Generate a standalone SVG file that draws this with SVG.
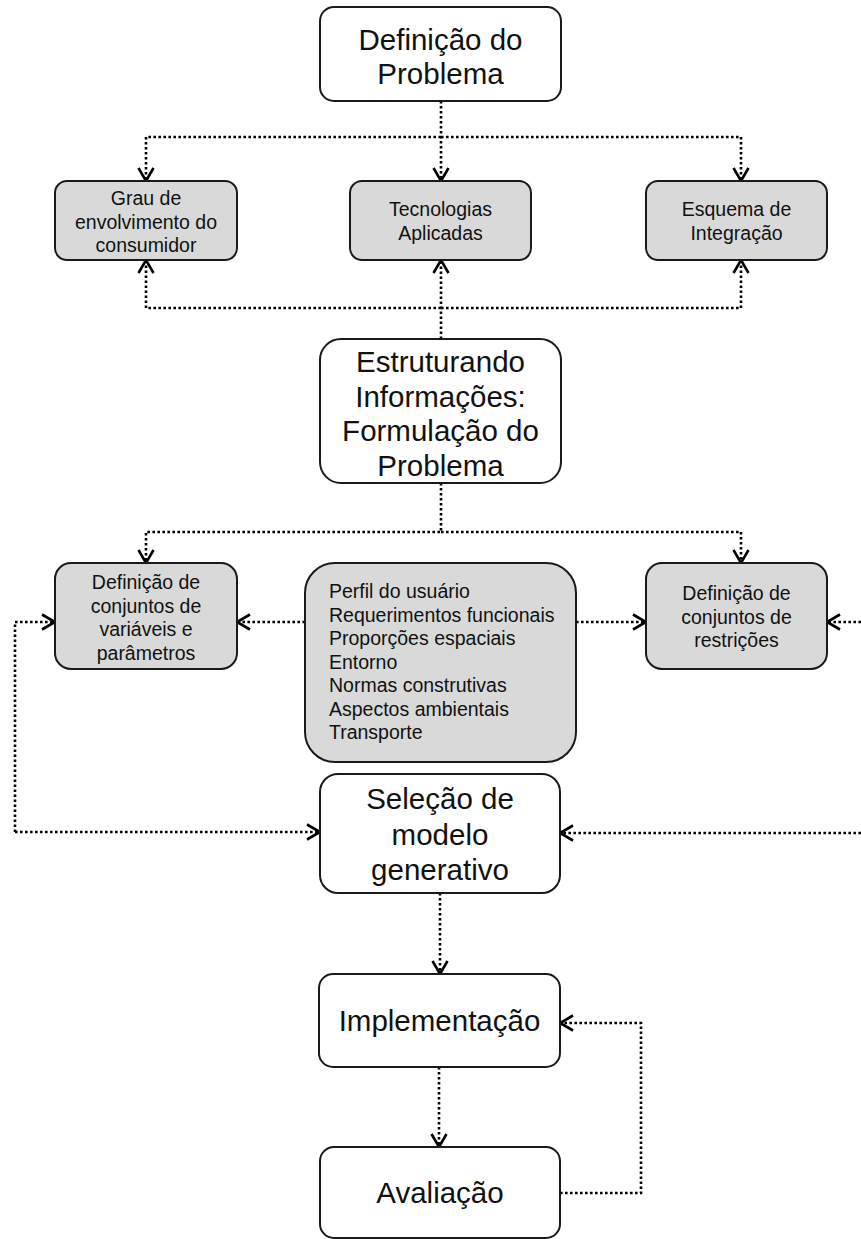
<svg xmlns="http://www.w3.org/2000/svg" width="861" height="1239" viewBox="0 0 861 1239">
<style>
.box{fill:#ffffff;stroke:#1a1a1a;stroke-width:2}
.gbox{fill:#d9d9d9;stroke:#1a1a1a;stroke-width:2}
.big{font-family:"Liberation Sans",Arial,sans-serif;font-size:29.5px;fill:#111;text-anchor:middle}
.sm{font-family:"Liberation Sans",Arial,sans-serif;font-size:19.5px;fill:#111;text-anchor:middle}
.lst{font-family:"Liberation Sans",Arial,sans-serif;font-size:19.5px;fill:#111}
.con{fill:none;stroke:#000;stroke-width:2.6;stroke-dasharray:2.6 2.4}
</style>
<defs>
<marker id="arr" markerUnits="userSpaceOnUse" markerWidth="20" markerHeight="20" refX="15" refY="10" orient="auto" overflow="visible">
<path d="M2,2.5 L15,10 L2,17.5" fill="none" stroke="#000" stroke-width="2.6" stroke-dasharray="none"/>
</marker>
</defs>
<g id="connectors">
<path class="con" d="M441 101 V181" marker-end="url(#arr)"/>
<path class="con" d="M441 137 H146 V181" marker-end="url(#arr)"/>
<path class="con" d="M441 137 H741 V181" marker-end="url(#arr)"/>
<path class="con" d="M441 339 V260" marker-end="url(#arr)"/>
<path class="con" d="M441 308 H146 V260" marker-end="url(#arr)"/>
<path class="con" d="M441 308 H741 V260" marker-end="url(#arr)"/>
<path class="con" d="M441 483 V532 H146 V563" marker-end="url(#arr)"/>
<path class="con" d="M441 532 H741 V563" marker-end="url(#arr)"/>
<path class="con" d="M305 622 H237" marker-end="url(#arr)"/>
<path class="con" d="M576 622 H646" marker-end="url(#arr)"/>
<path class="con" d="M861 622 H827" marker-end="url(#arr)"/>
<path class="con" d="M15 832 V622 H55" marker-end="url(#arr)"/>
<path class="con" d="M15 832 H320" marker-end="url(#arr)"/>
<path class="con" d="M861 833 H560" marker-end="url(#arr)"/>
<path class="con" d="M440 893 V974" marker-end="url(#arr)"/>
<path class="con" d="M439 1067 V1147" marker-end="url(#arr)"/>
<path class="con" d="M560 1193 H641 V1023 H560" marker-end="url(#arr)"/>
</g>
<g id="definicao-problema">
<rect class="box" x="320" y="7" width="241" height="94" rx="14"/>
<text class="big" x="440.5" y="50">Definição do</text>
<text class="big" x="440.5" y="84">Problema</text>
</g>
<g id="grau-envolvimento">
<rect class="gbox" x="55" y="181" width="182" height="79" rx="12"/>
<text class="sm" x="146" y="205">Grau de</text>
<text class="sm" x="146" y="228.5">envolvimento do</text>
<text class="sm" x="146" y="252">consumidor</text>
</g>
<g id="tecnologias">
<rect class="gbox" x="350" y="181" width="181" height="79" rx="12"/>
<text class="sm" x="440.5" y="216">Tecnologias</text>
<text class="sm" x="440.5" y="239.5">Aplicadas</text>
</g>
<g id="esquema-integracao">
<rect class="gbox" x="646" y="181" width="181" height="79" rx="12"/>
<text class="sm" x="736.5" y="216">Esquema de</text>
<text class="sm" x="736.5" y="239.5">Integração</text>
</g>
<g id="estruturando">
<rect class="box" x="320" y="339" width="241" height="144" rx="21"/>
<text class="big" x="440.5" y="372">Estruturando</text>
<text class="big" x="440.5" y="406.5">Informações:</text>
<text class="big" x="440.5" y="441">Formulação do</text>
<text class="big" x="440.5" y="475.5">Problema</text>
</g>
<g id="variaveis-parametros">
<rect class="gbox" x="55" y="563" width="182" height="106" rx="16"/>
<text class="sm" x="146" y="589">Definição de</text>
<text class="sm" x="146" y="612.5">conjuntos de</text>
<text class="sm" x="146" y="636">variáveis e</text>
<text class="sm" x="146" y="659.5">parâmetros</text>
</g>
<g id="lista-informacoes">
<rect class="gbox" x="305" y="563" width="271" height="199" rx="30"/>
<text class="lst" x="329" y="598">Perfil do usuário</text>
<text class="lst" x="329" y="621.5">Requerimentos funcionais</text>
<text class="lst" x="329" y="645">Proporções espaciais</text>
<text class="lst" x="329" y="668.5">Entorno</text>
<text class="lst" x="329" y="692">Normas construtivas</text>
<text class="lst" x="329" y="715.5">Aspectos ambientais</text>
<text class="lst" x="329" y="739">Transporte</text>
</g>
<g id="restricoes">
<rect class="gbox" x="646" y="563" width="181" height="106" rx="16"/>
<text class="sm" x="736.5" y="600">Definição de</text>
<text class="sm" x="736.5" y="623.5">conjuntos de</text>
<text class="sm" x="736.5" y="647">restrições</text>
</g>
<g id="selecao-modelo">
<rect class="box" x="320" y="774" width="240" height="119" rx="18"/>
<text class="big" x="440" y="809">Seleção de</text>
<text class="big" x="440" y="844.5">modelo</text>
<text class="big" x="440" y="880">generativo</text>
</g>
<g id="implementacao">
<rect class="box" x="319" y="974" width="241" height="93" rx="14"/>
<text class="big" x="439.5" y="1031">Implementação</text>
</g>
<g id="avaliacao">
<rect class="box" x="320" y="1147" width="240" height="91" rx="14"/>
<text class="big" x="440" y="1203">Avaliação</text>
</g>
</svg>
